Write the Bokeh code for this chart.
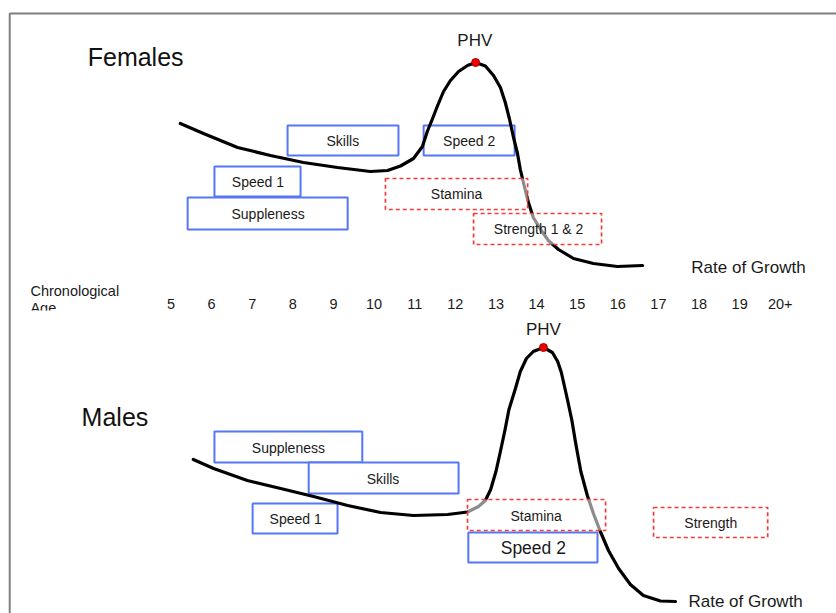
from bokeh.plotting import figure
from bokeh.models import Range1d, BoxAnnotation
from bokeh.core.properties import value
from bokeh.embed import file_html
from bokeh.resources import INLINE

FONT = value("Liberation Sans")

# ---- axis (chronological age) ----
tick_ages = [5, 6, 7, 8, 9, 10, 11, 12, 13, 14, 15, 16, 17, 18, 19, 20]
tick_labels = ["5", "6", "7", "8", "9", "10", "11", "12", "13", "14", "15", "16", "17", "18", "19", "20+"]

# ---- growth-rate curves (y: chart units, measured downward) ----
fem_age = [5.23, 5.80, 6.64, 7.45, 8.26, 9.10, 9.91, 10.33, 10.65, 10.97, 11.19, 11.31, 11.44,
           11.56, 11.71, 11.88, 12.08, 12.30, 12.50, 12.74, 12.94, 13.11, 13.23, 13.33, 13.43,
           13.53, 13.60, 13.70, 13.80, 13.92, 14.10, 14.29, 14.54, 14.91, 15.40, 15.99, 16.61]
fem_rate = [123, 133, 147, 155, 162, 167, 171, 170, 165.5, 158, 146, 131, 118,
            105.5, 91, 80, 71, 65, 62, 65.5, 75, 87, 102, 118, 136.5,
            153, 169, 186, 202, 217, 229, 240, 249, 258, 263, 266, 265]
fem_phv = [12.50, 62]

mal_age = [5.55, 6.05, 6.88, 7.70, 8.51, 9.35, 10.16, 10.97, 11.81, 12.30, 12.57, 12.74, 12.87,
           13.00, 13.11, 13.22, 13.32, 13.48, 13.60, 13.75, 13.92, 14.17, 14.39, 14.52, 14.61,
           14.76, 14.87, 14.96, 15.09, 15.25, 15.40, 15.57, 15.77, 16.02, 16.31, 16.63, 17.05, 17.42]
mal_rate = [459, 468, 480, 488, 496, 505, 512, 515, 514, 511.5, 506, 500, 489,
            471, 451, 430, 409, 388, 371, 358, 351, 347, 352, 361, 372,
            399, 420, 442, 471, 495, 513, 531, 550, 568, 584, 595, 600.5, 601]
mal_phv = [14.17, 347]

# ---- windows of trainability: blue (solid) boxes ----
blue_names = ["Skills", "Speed 2", "Speed 1", "Suppleness", "Suppleness", "Skills", "Speed 1"]
blue_start = [7.87, 11.22, 6.07, 5.41, 6.07, 8.39, 7.01]
blue_end = [10.60, 13.46, 8.19, 9.35, 9.71, 12.08, 9.10]
blue_top = [125, 125, 166, 197, 431, 462, 503]
blue_bot = [155, 155, 196, 229, 462, 493, 533]
blue_lx = [9.23, 12.34, 7.14, 7.39, 7.89, 10.22, 8.07]
blue_ly = [140, 140, 181, 213, 447, 478, 518]

# male Speed 2 (larger label)
ms2_start, ms2_end, ms2_top, ms2_bot = [12.32], [15.50], [532], [562]
ms2_lx, ms2_ly = [13.92], [547]

# ---- red (dashed) boxes ----
red_names = ["Stamina", "Strength 1 & 2", "Stamina", "Strength"]
red_start = [10.28, 12.45, 12.30, 16.88]
red_end = [13.78, 15.60, 15.70, 19.69]
red_top = [178, 213, 499, 507]
red_bot = [209, 244, 530, 537]
red_lx = [12.03, 14.05, 13.99, 18.29]
red_ly = [193, 228, 515, 522]

# ---- figure ----
p = figure(width=836, height=613, output_backend="svg", toolbar_location=None,
           x_range=Range1d(0.803, 21.384), y_range=Range1d(613, 0),
           x_axis_location=None, y_axis_location=None, min_border=0,
           background_fill_color="white", border_fill_color="white")
p.grid.visible = False
p.outline_line_color = None

# frame
p.add_layout(BoxAnnotation(left=1.03, right=22.5, top=13, bottom=640,
                           fill_color=None, fill_alpha=0, line_color="#7f7f7f",
                           line_alpha=1.0, line_width=2))

# blue boxes (below the curve)
p.quad(left=blue_start, right=blue_end, top=blue_top, bottom=blue_bot,
       fill_color="white", line_color="#5577f5", line_width=2)
p.quad(left=ms2_start, right=ms2_end, top=ms2_top, bottom=ms2_bot,
       fill_color="white", line_color="#5577f5", line_width=2)

# curves
p.line(fem_age, fem_rate, line_color="black", line_width=3.2, line_join="round", line_cap="round")
p.line(mal_age, mal_rate, line_color="black", line_width=3.2, line_join="round", line_cap="round")

# red dashed boxes (semi-transparent, above the curve)
p.quad(left=red_start, right=red_end, top=red_top, bottom=red_bot,
       fill_color="white", fill_alpha=0.55, line_color="#f53c3c", line_width=1.7,
       line_dash="4 3")

# PHV points
p.scatter([fem_phv[0], mal_phv[0]], [fem_phv[1], mal_phv[1]], size=8,
          fill_color="#ee0000", line_color="#aa0000", line_width=1)

# box labels
p.text(x=blue_lx, y=blue_ly, text=blue_names, text_font=FONT, text_font_size="14px",
       text_align="center", text_baseline="middle", text_color="#1a1a1a")
p.text(x=ms2_lx, y=ms2_ly, text=["Speed 2"], text_font=FONT, text_font_size="17.5px",
       text_align="center", text_baseline="middle", text_color="#1a1a1a")
p.text(x=red_lx, y=red_ly, text=red_names, text_font=FONT, text_font_size="14px",
       text_align="center", text_baseline="middle", text_color="#1a1a1a")

# titles and annotations
p.text(x=[2.95, 2.80], y=[56, 416.5], text=["Females", "Males"], text_font=FONT,
       text_font_size="25px", text_align="left", text_baseline="middle", text_color="#111111")
p.text(x=[12.48, 14.17], y=[40, 329], text=["PHV", "PHV"], text_font=FONT,
       text_font_size="17px", text_align="center", text_baseline="middle", text_color="#1a1a1a")
p.text(x=[17.81, 17.74], y=[266.5, 601], text=["Rate of Growth", "Rate of Growth"], text_font=FONT,
       text_font_size="17px", text_align="left", text_baseline="middle", text_color="#1a1a1a")

# chronological age row
p.text(x=tick_ages, y=[303] * len(tick_ages), text=tick_labels, text_font=FONT,
       text_font_size="14.5px", text_align="center", text_baseline="middle", text_color="#1a1a1a")
p.text(x=[1.54, 1.54], y=[290, 307], text=["Chronological", "Age"], text_font=FONT,
       text_font_size="14.5px", text_align="left", text_baseline="middle", text_color="#1a1a1a")
# the reference clips the "Age" line
p.add_layout(BoxAnnotation(left=1.2, right=4.0, top=310, bottom=318,
                           fill_color="white", fill_alpha=1.0, line_color=None))

open("out.html", "w").write(file_html(p, INLINE))
